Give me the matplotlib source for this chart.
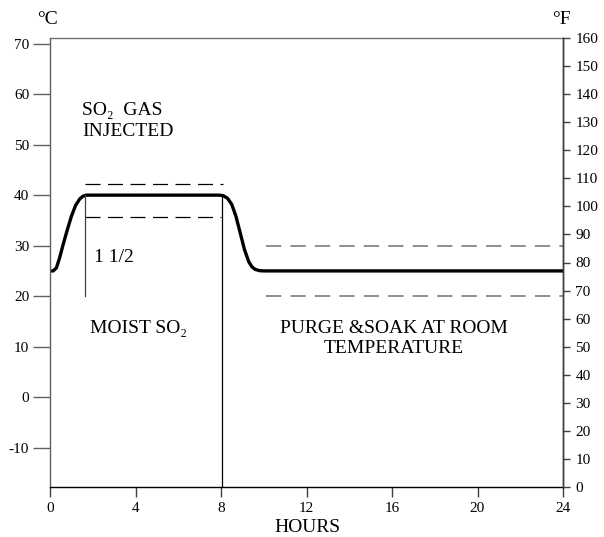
import matplotlib
matplotlib.use('Agg')
import matplotlib.pyplot as plt

plt.rcParams['font.family'] = ['Liberation Serif', 'DejaVu Serif']
plt.rcParams['axes.unicode_minus'] = False

# temperature profile (hours, deg C)
hours = [0, 0.15, 0.3, 0.45, 0.6, 0.8, 1.0, 1.2, 1.4, 1.55, 1.7, 1.9,
         7.9, 8.1, 8.3, 8.5, 8.7, 8.9, 9.1, 9.3, 9.45, 9.6, 9.8, 10.0, 24]
temp_c = [25, 25, 25.6, 27.6, 30, 33, 35.8, 38, 39.3, 39.8, 40, 40,
          40, 39.9, 39.4, 38.2, 35.8, 32.5, 29.2, 26.8, 25.8, 25.3, 25.05, 25, 25]

# tolerance bands: (x start, x end, deg C)
soak_upper = (1.63, 8.1, 42.3)
soak_lower = (1.63, 8.0, 35.7)
room_upper = (10.1, 24, 30)
room_lower = (10.1, 24, 20)

x_ticks = [0, 4, 8, 12, 16, 20, 24]
c_ticks = [-10, 0, 10, 20, 30, 40, 50, 60, 70]
f_ticks = list(range(0, 161, 10))

fig = plt.figure(figsize=(6.04, 5.37), dpi=100)
ax = fig.add_axes([50 / 604, 1 - 487 / 537, 513 / 604, 449 / 537])

ax.plot(hours, temp_c, color='black', lw=2.4, solid_capstyle='butt')

for x0, x1, y in (soak_upper, soak_lower):
    ax.plot([x0, x1], [y, y], color='black', lw=0.9, dashes=(12, 6))
for x0, x1, y in (room_upper, room_lower):
    ax.plot([x0, x1], [y, y], color='#707070', lw=1.1, dashes=(10, 6))

# vertical markers
ax.plot([1.63, 1.63], [40, 20], color='#404040', lw=0.9)
ax.plot([8.05, 8.05], [40, -17.78], color='black', lw=0.9)

ax.set_xlim(0, 24)
ax.set_ylim(-17.78, 71.11)
ax.set_xticks(x_ticks)
ax.set_yticks(c_ticks)

ax2 = ax.twinx()
ax2.set_ylim(0, 160)
ax2.set_yticks(f_ticks)

for a in (ax, ax2):
    for s in a.spines.values():
        s.set_linewidth(1)
ax.spines['left'].set_color('#606060')
ax.spines['top'].set_color('#707070')
ax.spines['bottom'].set_color('black')
ax2.spines['right'].set_color('#404040')
ax2.spines['left'].set_visible(False)
ax2.spines['top'].set_visible(False)
ax2.spines['bottom'].set_visible(False)

ax.tick_params(axis='y', direction='out', length=12, width=1, color='#606060',
               labelsize=11, pad=3)
ax.tick_params(axis='x', direction='out', length=7, width=1, color='#404040',
               labelsize=11, pad=4)
ax2.tick_params(axis='y', direction='out', length=5, width=1, color='#404040',
                labelsize=11, pad=4)

ax.text(1.5, 54.7, 'SO\u2082  GAS\nINJECTED', fontsize=14, va='center',
        ha='left', linespacing=1.35)
ax.text(2.06, 27.7, '1 1/2', fontsize=14, va='center', ha='left')
ax.text(1.87, 13.6, 'MOIST SO\u2082', fontsize=14, va='center', ha='left')
ax.text(16.1, 11.6, 'PURGE &SOAK AT ROOM\nTEMPERATURE', fontsize=14,
        va='center', ha='center', linespacing=1.2)

fig.text(47 / 604, 1 - 20 / 537, '\u00b0C', fontsize=14, ha='center', va='center')
fig.text(561 / 604, 1 - 20 / 537, '\u00b0F', fontsize=14, ha='center', va='center')
fig.text(307 / 604, 1 - 528 / 537, 'HOURS', fontsize=14, ha='center', va='center')

fig.savefig('out.png', dpi=100)
